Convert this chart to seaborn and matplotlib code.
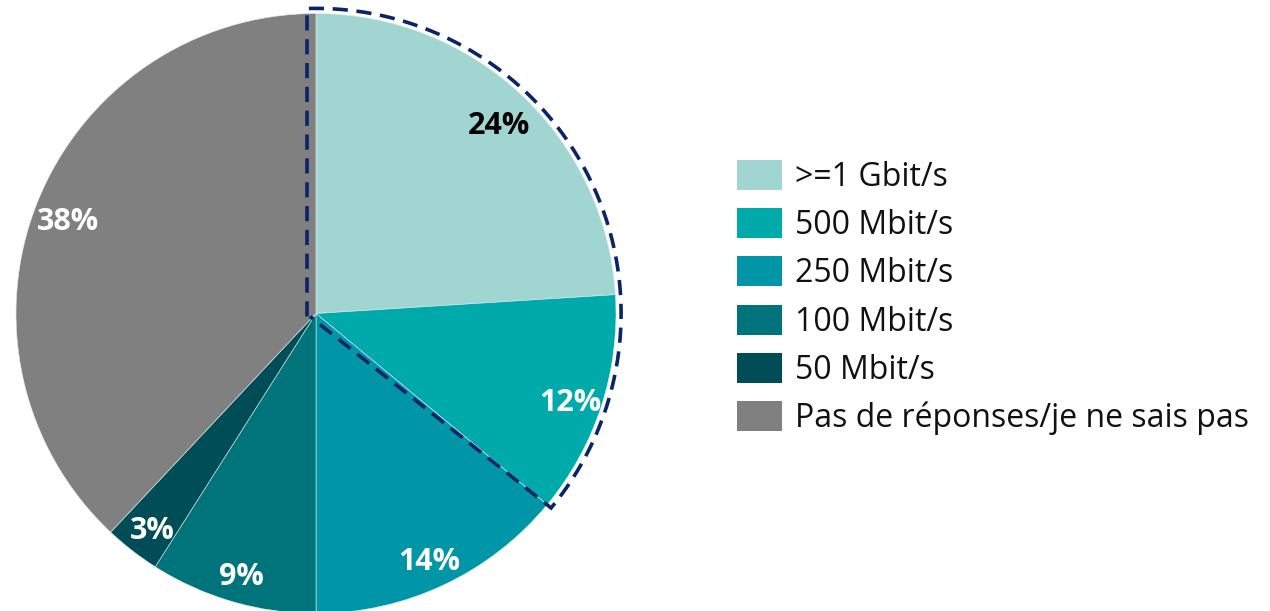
import numpy as np
import matplotlib
matplotlib.use("Agg")
import matplotlib.pyplot as plt
import matplotlib.transforms as mtransforms
import seaborn as sns
from matplotlib.patches import Patch
from matplotlib.lines import Line2D

categories = [">=1 Gbit/s", "500 Mbit/s", "250 Mbit/s", "100 Mbit/s", "50 Mbit/s",
              "Pas de réponses/je ne sais pas"]
values = [24, 12, 14, 9, 3, 38]
colors = ["#A0D5D1", "#00AAAA", "#0096A8", "#00737B", "#004D58", "#808080"]
label_colors = ["black", "white", "white", "white", "white", "white"]
highlight_count = 2  # first two slices outlined

sns.set_theme(style="white")
plt.rcParams["font.family"] = ["Open Sans", "DejaVu Sans"]

fig = plt.figure(figsize=(12.7, 6.11), dpi=100)
ax = fig.add_axes([16 / 1270, (611 - 613.5) / 611, 600 / 1270, 600 / 611])

total = sum(values)
wedges, texts, autotexts = ax.pie(
    values, colors=colors, startangle=90, counterclock=False,
    autopct=lambda p: f"{p:.0f}%", pctdistance=0.89, radius=1,
    wedgeprops=dict(edgecolor="#dfefef", linewidth=0.4),
    textprops=dict(fontsize=22, fontweight="bold"))
shift = mtransforms.ScaledTranslation(0, -7 / 100, fig.dpi_scale_trans)
for t, c in zip(autotexts, label_colors):
    t.set_color(c)
    t.set_transform(t.get_transform() + shift)
ax.set_xlim(-1, 1)
ax.set_ylim(-1, 1)
ax.set_aspect("equal")
ax.axis("off")

# dashed outline around the highlighted slices
end_angle = 90 - 360 * sum(values[:highlight_count]) / total
R = 1.017
xoff = -0.03
start_angle = np.degrees(np.arccos(xoff / R))
th = np.radians(np.linspace(start_angle, end_angle, 200))
xs = np.concatenate([[xoff, xoff], R * np.cos(th), [xoff + 0.01]])
ys = np.concatenate([[-0.01, R * np.sin(th[0])], R * np.sin(th), [-0.01]])
ax.add_line(Line2D(xs, ys, color="#0B2468", linewidth=2.6,
                   linestyle=(0, (4.2, 2.4)), solid_joinstyle="miter",
                   dash_joinstyle="miter", clip_on=False))

handles = [Patch(facecolor=c, edgecolor="none") for c in colors]
fig.legend(handles, categories, loc="center left",
           bbox_to_anchor=(737 / 1270, (611 - 297.5) / 611),
           frameon=False, fontsize=23, handlelength=1.41, handleheight=1.07,
           handletextpad=0.41, labelspacing=0.45, borderpad=0, borderaxespad=0,
           labelcolor="#111111")

fig.savefig("out.png", dpi=100)
